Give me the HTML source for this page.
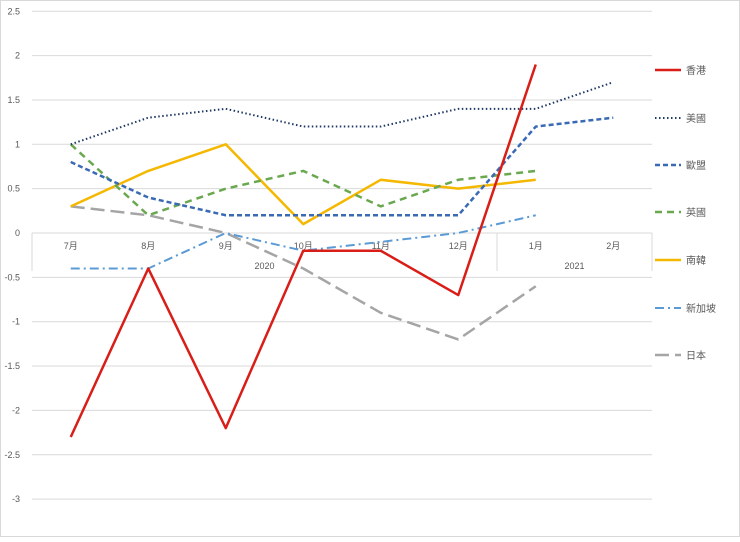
<!DOCTYPE html>
<html><head><meta charset="utf-8"><style>
body{margin:0;background:#fff}
svg text{font-family:"Liberation Sans","Noto Sans CJK TC",sans-serif;fill:#595959}
</style></head><body>
<svg width="740" height="537" id="c">
<rect x="0.5" y="0.5" width="739" height="536" fill="#fff" stroke="#d9d9d9"/>
<g id="grid"></g>
<g id="axes"></g>
<g id="series"></g>
<g id="legend"></g>
</svg>
<script>
const months=["7月","8月","9月","10月","11月","12月","1月","2月"];
const years=["2020","2021"];
const yTicks=[2.5,2,1.5,1,0.5,0,-0.5,-1,-1.5,-2,-2.5,-3];
const hk=[-2.3,-0.4,-2.2,-0.2,-0.2,-0.7,1.9];
const us=[1.0,1.3,1.4,1.2,1.2,1.4,1.4,1.7];
const eu=[0.8,0.4,0.2,0.2,0.2,0.2,1.2,1.3];
const uk=[1.0,0.2,0.5,0.7,0.3,0.6,0.7];
const kr=[0.3,0.7,1.0,0.1,0.6,0.5,0.6];
const sg=[-0.4,-0.4,0.0,-0.2,-0.1,0.0,0.2];
const jp=[0.3,0.2,0.0,-0.4,-0.9,-1.2,-0.6];
const NS="http://www.w3.org/2000/svg";
const L=32,R=652,Y0=233,U=88.7;
const bw=(R-L)/months.length;
const xs=i=>L+bw*(i+0.5);
const ys=v=>Y0-v*U;
function mk(t,a,p){const e=document.createElementNS(NS,t);for(const k in a)e.setAttribute(k,a[k]);p.appendChild(e);return e;}
const grid=document.getElementById('grid'),axes=document.getElementById('axes'),ser=document.getElementById('series'),leg=document.getElementById('legend');
yTicks.forEach(v=>{
 const g=mk('line',{x1:L,x2:R,y1:ys(v),y2:ys(v),stroke:'#d9d9d9','stroke-width':1},grid);
 
 
 const t=mk('text',{x:20,y:ys(v)+3,'font-size':9,'text-anchor':'end'},axes);
 t.textContent=v;
 
 
});
// category axis box
[0,6,8].forEach(i=>{
 const ln=mk('line',{x1:L+bw*i,x2:L+bw*i,y1:Y0,y2:Y0+38,stroke:'#d9d9d9'},axes);
 
 
});
months.forEach((m,i)=>{
 const t=mk('text',{x:xs(i),y:249,'font-size':9,'text-anchor':'middle'},axes);
 t.textContent=m;
 
 
});
const yrSpan=[[0,6],[6,8]];
years.forEach((y,i)=>{
 const t=mk('text',{x:L+bw*(yrSpan[i][0]+yrSpan[i][1])/2,y:269,'font-size':9,'text-anchor':'middle'},axes);
 t.textContent=y;
 
 
});
const S=[
 {n:'香港',d:hk,c:'#d91e18',w:2.5,da:'',id:'hong-kong'},
 {n:'美國',d:us,c:'#1f3864',w:2,da:'1.5 2.5',id:'usa'},
 {n:'歐盟',d:eu,c:'#3a6ab4',w:2.5,da:'5 3',id:'eu'},
 {n:'英國',d:uk,c:'#6aa84f',w:2.5,da:'7 5',id:'uk'},
 {n:'南韓',d:kr,c:'#f5b800',w:2.5,da:'',id:'south-korea'},
 {n:'新加坡',d:sg,c:'#5b9bd5',w:2,da:'9 4 2 4',id:'singapore'},
 {n:'日本',d:jp,c:'#a5a5a5',w:2.5,da:'14 6',id:'japan'}
];
const ordered=[S[6],S[5],S[4],S[3],S[2],S[1],S[0]];
ordered.forEach(s=>{
 const p=mk('polyline',{points:s.d.map((v,i)=>xs(i)+','+ys(v)).join(' '),fill:'none',stroke:s.c,'stroke-width':s.w,'stroke-dasharray':s.da,'stroke-linejoin':'round'},ser);
 
 
});
const ly=[70,118,165,212,260,308,355];
S.forEach((s,i)=>{
 const g=mk('g',{},leg);
 
 
 mk('line',{x1:655,x2:681,y1:ly[i],y2:ly[i],stroke:s.c,'stroke-width':s.w,'stroke-dasharray':s.da},g);
 const t=mk('text',{x:686,y:ly[i]+4,'font-size':10},g);
 t.textContent=s.n;
});
</script>
</body></html>
